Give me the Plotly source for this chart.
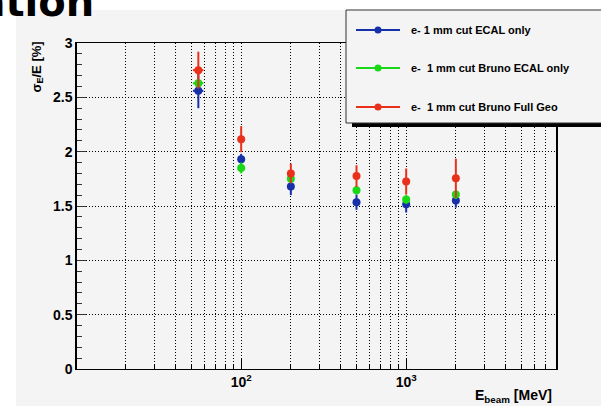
import plotly.graph_objects as go

# Beam energies [MeV] and relative energy resolution sigma_E/E [%]
energy = [55, 100, 200, 500, 1000, 2000]
energy_err = [4, 4, 4, 4, 4, 4]

ecal_only = [2.56, 1.93, 1.68, 1.535, 1.515, 1.55]
ecal_only_err = [0.16, 0.05, 0.08, 0.07, 0.075, 0.065]

bruno_ecal = [2.63, 1.85, 1.75, 1.645, 1.56, 1.605]
bruno_ecal_err = [0.04, 0.05, 0.04, 0.04, 0.04, 0.04]

bruno_full = [2.75, 2.115, 1.80, 1.775, 1.725, 1.755]
bruno_full_err = [0.17, 0.12, 0.09, 0.10, 0.12, 0.18]

series_names = ["e- 1 mm cut ECAL only",
                "e-  1 mm cut Bruno ECAL only",
                "e-  1 mm cut Bruno Full Geo"]
series_colors = ["#1530a8", "#18d818", "#e8301a"]

x_tick_vals = [100, 1000]
x_tick_text = ["<b>10<sup>2</sup></b>", "<b>10<sup>3</sup></b>"]
x_minor_vals = [20, 30, 40, 50, 60, 70, 80, 90,
                200, 300, 400, 500, 600, 700, 800, 900,
                2000, 3000, 4000, 5000, 6000, 7000, 8000]

W, H = 601, 406
L, R, T, B = 77, 45, 43, 37
BG = "#f4f4f4"
FONT = "Liberation Sans"


def px(x):
    return (x - L) / (W - L - R)


def py(y):
    return (H - B - y) / (H - T - B)


fig = go.Figure()

data = [(ecal_only, ecal_only_err), (bruno_ecal, bruno_ecal_err), (bruno_full, bruno_full_err)]
for (vals, errs), name, col in zip(data, series_names, series_colors):
    fig.add_trace(go.Scatter(
        x=energy, y=vals, mode="markers", name=name, showlegend=False,
        marker=dict(color=col, size=8),
        error_y=dict(type="data", array=errs, thickness=2, width=0, color=col),
        error_x=dict(type="data", array=energy_err, thickness=2, width=0, color=col),
    ))

shapes = [
    # canvas background
    dict(type="rect", xref="paper", yref="paper", x0=px(16), x1=px(W + 5),
         y0=py(10), y1=py(H + 5), fillcolor=BG, line=dict(width=0), layer="below"),
    # legend shadow
    dict(type="rect", xref="paper", yref="paper", x0=px(352), x1=px(W + 10),
         y0=py(123), y1=py(127), fillcolor="black", line=dict(width=0)),
    # legend box
    dict(type="rect", xref="paper", yref="paper", x0=px(346), x1=px(W + 10),
         y0=py(10), y1=py(123), fillcolor=BG, line=dict(color="#333333", width=1)),
]

annotations = []
row_y = [30, 68, 107]
for name, col, yy in zip(series_names, series_colors, row_y):
    shapes.append(dict(type="line", xref="paper", yref="paper",
                       x0=px(356), x1=px(400), y0=py(yy), y1=py(yy),
                       line=dict(color=col, width=2)))
    shapes.append(dict(type="circle", xref="paper", yref="paper",
                       x0=px(374.5), x1=px(381.5), y0=py(yy + 3.5), y1=py(yy - 3.5),
                       fillcolor=col, line=dict(color=col, width=0)))
    annotations.append(dict(xref="paper", yref="paper", x=px(409), y=py(yy),
                            xanchor="left", yanchor="middle", showarrow=False,
                            text="<b>%s</b>" % name,
                            font=dict(family=FONT, size=11, color="black")))

# axis titles
annotations.append(dict(xref="paper", yref="paper", x=px(37), y=py(40),
                        xanchor="center", yanchor="top", textangle=-90, showarrow=False,
                        text="<b>σ<sub>E</sub>/E [%]</b>",
                        font=dict(family=FONT, size=13, color="black")))
annotations.append(dict(xref="paper", yref="paper", x=px(554), y=py(396),
                        xanchor="right", yanchor="middle", showarrow=False,
                        text="<b>E<sub>beam</sub> [MeV]</b>",
                        font=dict(family=FONT, size=14, color="black")))
# page title
annotations.append(dict(xref="paper", yref="paper", x=px(96), y=py(27),
                        xanchor="right", yanchor="bottom", showarrow=False,
                        text="<b>ECAL Simulation</b>",
                        font=dict(family="DejaVu Sans", size=40, color="black")))

fig.update_layout(
    width=W, height=H,
    margin=dict(l=L, r=R, t=T, b=B),
    paper_bgcolor="white", plot_bgcolor=BG,
    shapes=shapes, annotations=annotations, showlegend=False,
)

grid_dash = "1px,2px"
fig.update_xaxes(
    type="log", range=[1.005, 3.908],
    tickmode="array", tickvals=x_tick_vals, ticktext=x_tick_text,
    ticks="inside", ticklen=10, tickcolor="black", tickwidth=1,
    showgrid=True, gridcolor="black", griddash=grid_dash, gridwidth=1,
    minor=dict(tickvals=x_minor_vals, ticks="inside", ticklen=5, tickcolor="black",
               showgrid=True, gridcolor="black", griddash=grid_dash, gridwidth=1),
    showline=True, mirror=True, linecolor="black", linewidth=1,
    zeroline=False, tickfont=dict(family=FONT, size=14, color="black"),
)
fig.update_yaxes(
    range=[0, 3], tickmode="linear", tick0=0, dtick=0.5,
    ticks="inside", ticklen=9, tickcolor="#333333", tickwidth=1,
    showgrid=True, gridcolor="black", griddash=grid_dash, gridwidth=1,
    minor=dict(dtick=0.1, ticks="inside", ticklen=5, tickcolor="#333333", showgrid=False),
    showline=True, mirror=True, linecolor="black", linewidth=1.5,
    zeroline=False, tickfont=dict(family=FONT, size=14, color="black", weight="bold"),
)

fig.write_html("out.html")
